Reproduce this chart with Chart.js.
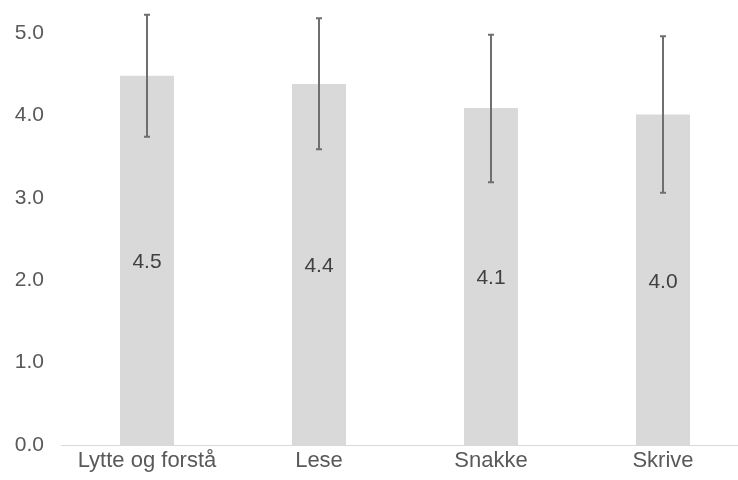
<!DOCTYPE html>
<html>
<head>
<meta charset="utf-8">
<script src="https://cdn.jsdelivr.net/npm/chart.js@4.4.0/dist/chart.umd.min.js"></script>
<style>
  html, body { margin: 0; padding: 0; background: #fff; overflow: hidden; }
  #wrap { width: 738px; height: 480px; overflow: hidden; }
</style>
</head>
<body>
<div id="wrap"><canvas id="chart" width="752" height="480"></canvas></div>
<script>
// chart data
const categories = ['Lytte og forstå', 'Lese', 'Snakke', 'Skrive'];
const means = [4.48, 4.38, 4.09, 4.01];
const errLow = [3.74, 3.59, 3.19, 3.06];
const errHigh = [5.22, 5.18, 4.98, 4.96];

// error bars, drawn over the bars (not clipped to chart area)
const errorBars = {
    id: 'errorBars',
    afterDatasetsDraw(chart) {
        const ctx = chart.ctx;
        const y = chart.scales.y;
        const meta = chart.getDatasetMeta(0);
        ctx.save();
        ctx.strokeStyle = '#6f6f6f';
        ctx.lineWidth = 2;
        meta.data.forEach((bar, i) => {
            const top = y.getPixelForValue(errHigh[i]);
            const bot = y.getPixelForValue(errLow[i]);
            ctx.beginPath();
            ctx.moveTo(bar.x, top);
            ctx.lineTo(bar.x, bot);
            ctx.moveTo(bar.x - 3, top);
            ctx.lineTo(bar.x + 3, top);
            ctx.moveTo(bar.x - 3, bot);
            ctx.lineTo(bar.x + 3, bot);
            ctx.stroke();
        });
        ctx.restore();
    }
};

// value labels in the middle of each bar
const barLabels = {
    id: 'barLabels',
    afterDatasetsDraw(chart) {
        const ctx = chart.ctx;
        const meta = chart.getDatasetMeta(0);
        ctx.save();
        ctx.fillStyle = '#404040';
        ctx.font = '21px "Liberation Sans", Arial, sans-serif';
        ctx.textAlign = 'center';
        ctx.textBaseline = 'middle';
        meta.data.forEach((bar, i) => {
            ctx.fillText(means[i].toFixed(1), bar.x, (bar.y + bar.base) / 2 + 2);
        });
        ctx.restore();
    }
};

new Chart(document.getElementById('chart').getContext('2d'), {
    type: 'bar',
    data: {
        labels: categories,
        datasets: [{
            data: means,
            backgroundColor: '#d9d9d9',
            borderWidth: 0,
            categoryPercentage: 0.314,
            barPercentage: 1
        }]
    },
    options: {
        responsive: false,
        animation: false,
        layout: { padding: { top: 33, right: 3, left: 0, bottom: 0 } },
        plugins: {
            legend: { display: false },
            tooltip: { enabled: false }
        },
        scales: {
            x: {
                grid: { display: false, drawTicks: false },
                border: { display: true, color: '#d9d9d9', width: 1 },
                ticks: {
                    color: '#595959',
                    padding: 3,
                    font: { family: '"Liberation Sans", Arial, sans-serif', size: 22 }
                },
                afterFit(scale) { scale.height = 35; }
            },
            y: {
                min: 0,
                max: 5,
                grid: { display: false, drawTicks: false },
                border: { display: false },
                ticks: {
                    stepSize: 1,
                    color: '#595959',
                    padding: 17,
                    font: { family: '"Liberation Sans", Arial, sans-serif', size: 21 },
                    callback: v => v.toFixed(1)
                },
                afterFit(scale) { scale.width = 61; }
            }
        }
    },
    plugins: [errorBars, barLabels]
});
</script>
</body>
</html>
